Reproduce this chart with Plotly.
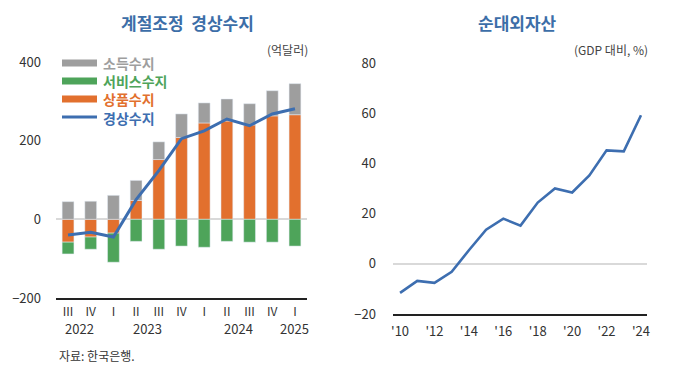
import plotly.graph_objects as go

# ---- Left chart data: 계절조정 경상수지 (억달러) ----
quarters = ["III", "IV", "I", "II", "III", "IV", "I", "II", "III", "IV", "I"]
year_labels = ["2022", "2023", "2024", "2025"]
year_pos = [0.5, 3.5, 7.5, 10]
income = [45, 46, 61, 51, 45, 60, 51, 56, 54, 64, 79]          # 소득수지
services = [-30, -31, -74, -56, -76, -68, -71, -56, -58, -58, -68]  # 서비스수지
goods = [-58, -45, -35, 48, 152, 208, 245, 250, 240, 263, 266]  # 상품수지
current = [-40, -33, -45, 50, 124, 205, 225, 255, 238, 268, 281]  # 경상수지

# ---- Right chart data: 순대외자산 (GDP 대비, %) ----
years = list(range(2010, 2025))
niip = [-11.6, -6.8, -7.6, -3.2, 5.4, 13.6, 18.0, 15.2, 24.4, 30.0, 28.4, 35.2, 45.2, 44.8, 59.2]
right_ticks = [2010, 2012, 2014, 2016, 2018, 2020, 2022, 2024]
right_ticktext = ["'10", "'12", "'14", "'16", "'18", "'20", "'22", "'24"]

C_GRAY = "#9e9e9e"
C_GREEN = "#4ea45a"
C_ORANGE = "#e2702e"
C_BLUE = "#3d6eb0"
C_TITLE = "#3c6ea8"
FONT = "Noto Sans CJK KR"

W, H = 680, 366
OFF = 8  # page body margin offset
def px(x):
    return (x - OFF) / W
def py(y):
    return 1 - (y - OFF) / H

xq = list(range(len(quarters)))

fig = go.Figure()
fig.add_trace(go.Bar(x=xq, y=goods, marker_color=C_ORANGE, width=0.52, name="상품수지",
                     xaxis="x", yaxis="y", showlegend=False))
fig.add_trace(go.Bar(x=xq, y=services, marker_color=C_GREEN, width=0.52, name="서비스수지",
                     xaxis="x", yaxis="y", showlegend=False))
fig.add_trace(go.Bar(x=xq, y=income, marker_color=C_GRAY, width=0.52, name="소득수지",
                     xaxis="x", yaxis="y", showlegend=False))
fig.add_trace(go.Scatter(x=xq, y=current, mode="lines", line=dict(color=C_BLUE, width=3),
                         name="경상수지", xaxis="x", yaxis="y", showlegend=False))

fig.add_trace(go.Scatter(x=years, y=niip, mode="lines", line=dict(color=C_BLUE, width=2.6),
                         name="순대외자산", xaxis="x2", yaxis="y2", showlegend=False))

tickfont = dict(family=FONT, size=13, color="#333333")

fig.update_layout(
    width=W, height=H,
    margin=dict(l=0, r=0, t=0, b=0, autoexpand=False),
    paper_bgcolor="white", plot_bgcolor="white",
    barmode="relative",
    font=dict(family=FONT, color="#333333"),
    xaxis=dict(domain=[px(56), px(307)], range=[-0.53, 10.53], tickmode="array",
               tickvals=xq, ticktext=quarters, showgrid=False, zeroline=False,
               showline=True, linecolor="#222222", linewidth=2, ticks="",
               tickfont=dict(family=FONT, size=12, color="#333333"), anchor="y",
               automargin=False, ticklabelstandoff=2),
    yaxis=dict(domain=[py(298), py(62)], range=[-200, 400], tickvals=[-200, 0, 200, 400],
               showgrid=False, zeroline=True, zerolinecolor="#d9d9d9", zerolinewidth=1.5,
               showline=False, ticks="", tickfont=tickfont, ticklabelstandoff=14,
               anchor="x", automargin=False),
    xaxis2=dict(domain=[px(393), px(647)], range=[2009.59, 2024.35], tickmode="array",
                tickvals=right_ticks, ticktext=right_ticktext, showgrid=False, zeroline=False,
                showline=True, linecolor="#222222", linewidth=2, ticks="",
                tickfont=tickfont, anchor="y2", ticklabelstandoff=4, automargin=False),
    yaxis2=dict(domain=[py(314), py(63)], range=[-20, 80], tickvals=[-20, 0, 20, 40, 60, 80],
                showgrid=False, zeroline=True, zerolinecolor="#d9d9d9", zerolinewidth=1.5,
                showline=False, ticks="", tickfont=tickfont, ticklabelstandoff=16,
                anchor="x2", automargin=False),
)

annotations = []
# Titles
annotations.append(dict(text="<b>계절조정  경상수지</b>", x=px(187), y=py(22), xref="paper", yref="paper",
                        showarrow=False, font=dict(family=FONT, size=17, color=C_TITLE),
                        xanchor="center", yanchor="middle"))
annotations.append(dict(text="<b>순대외자산</b>", x=px(517), y=py(22), xref="paper", yref="paper",
                        showarrow=False, font=dict(family=FONT, size=17, color=C_TITLE),
                        xanchor="center", yanchor="middle"))
# Units
annotations.append(dict(text="(억달러)", x=px(310), y=py(49), xref="paper", yref="paper",
                        showarrow=False, font=dict(family=FONT, size=12, color="#444444"),
                        xanchor="right", yanchor="middle"))
annotations.append(dict(text="(GDP 대비, %)", x=px(650), y=py(49), xref="paper", yref="paper",
                        showarrow=False, font=dict(family=FONT, size=12, color="#444444"),
                        xanchor="right", yanchor="middle"))
# Year labels under quarters
for yl, xp in zip(year_labels, year_pos):
    annotations.append(dict(text=yl, x=xp, y=py(328), xref="x", yref="paper", showarrow=False,
                            font=dict(family=FONT, size=13, color="#333333"),
                            xanchor="center", yanchor="middle"))
# Source
annotations.append(dict(text="자료: 한국은행.", x=px(57), y=py(355), xref="paper", yref="paper",
                        showarrow=False, font=dict(family=FONT, size=12, color="#333333"),
                        xanchor="left", yanchor="middle"))

# Custom legend: symbols as shapes, labels as one multi-line coloured text block
legend_items = [("소득수지", C_GRAY, "bar", 63), ("서비스수지", C_GREEN, "bar", 81),
                ("상품수지", C_ORANGE, "bar", 99), ("경상수지", C_BLUE, "line", 117)]
shapes = []
lines = []
for name, col, kind, yc in legend_items:
    if kind == "bar":
        shapes.append(dict(type="rect", xref="paper", yref="paper", x0=px(62), x1=px(97),
                           y0=py(yc + 3.5), y1=py(yc - 3.5), fillcolor=col, line=dict(width=0)))
    else:
        shapes.append(dict(type="line", xref="paper", yref="paper", x0=px(62), x1=px(97),
                           y0=py(yc), y1=py(yc), line=dict(color=col, width=3)))
    lines.append(f'<span style="color:{col}"><b>{name}</b></span>')
annotations.append(dict(text="<br>".join(lines), x=px(101), y=py(90), xref="paper", yref="paper",
                        showarrow=False, align="left", font=dict(family=FONT, size=14, color="#333333"),
                        xanchor="left", yanchor="middle"))

fig.update_layout(annotations=annotations, shapes=shapes)
fig.write_html("out.html")
